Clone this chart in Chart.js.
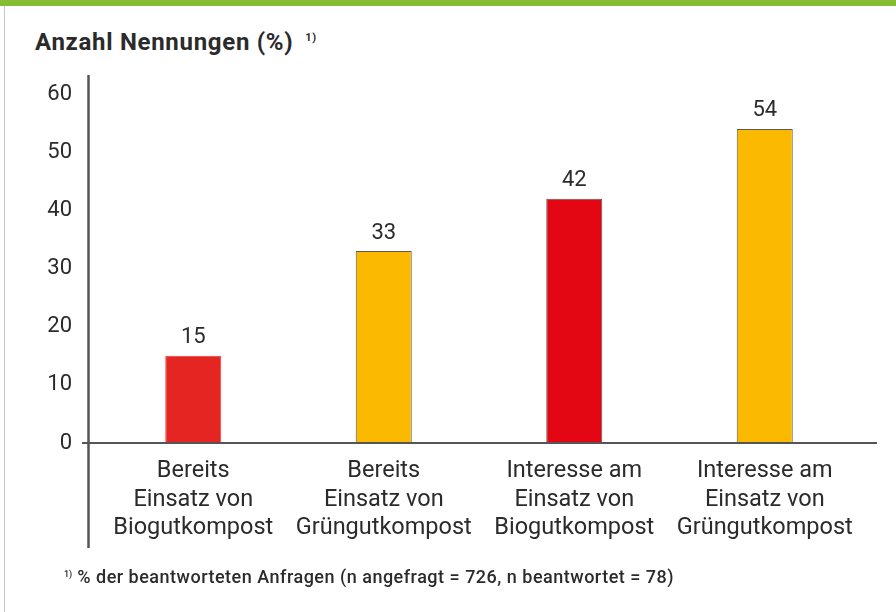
<!DOCTYPE html>
<html lang="de">
<head>
<meta charset="utf-8">
<script src="https://cdn.jsdelivr.net/npm/chart.js@4"></script>
<style>
    body { margin: 0; background: #fff; }
    .wrap { position: relative; width: 896px; height: 612px; overflow: hidden; font-family: Roboto, sans-serif; color: #2b2b2b; }
    .topbar { position: absolute; left: 0; top: 0; width: 896px; height: 6px; background: #86bc34; }
    .leftline { position: absolute; left: 4px; top: 6px; width: 1px; height: 606px; background: #c8c8c8; }
    .title { position: absolute; left: 35px; top: 28px; font-size: 24px; font-weight: bold; letter-spacing: 0.7px; white-space: nowrap; }
    .title sup { font-size: 11px; margin-left: 12px; vertical-align: 9px; }
    .note { position: absolute; left: 64px; top: 566px; font-size: 18px; font-weight: 500; letter-spacing: 0.5px; white-space: nowrap; }
    .note sup { font-size: 9px; margin-right: 5px; vertical-align: 6px; letter-spacing: 0; }
    canvas { position: absolute; left: 0; top: 0; }
</style>
</head>
<body>
<div class="wrap">
    <div class="topbar"></div>
    <div class="leftline"></div>
    <div class="title">Anzahl Nennungen (%)<sup>1)</sup></div>
    <canvas id="chart" width="896" height="612"></canvas>
    <div class="note"><sup>1)</sup>% der beantworteten Anfragen (n angefragt = 726, n beantwortet = 78)</div>
</div>
<script>
const categories = [
    ['Bereits', 'Einsatz von', 'Biogutkompost'],
    ['Bereits', 'Einsatz von', 'Grüngutkompost'],
    ['Interesse am', 'Einsatz von', 'Biogutkompost'],
    ['Interesse am', 'Einsatz von', 'Grüngutkompost']
];
const values = [15, 33, 42, 54];
const yTicks = [0, 10, 20, 30, 40, 50, 60];

const barColors = ['#e52521', '#fbba00', '#e30613', '#fbba00'];
const barBorders = ['#e8413c', '#5a5a5a', '#5a5a5a', '#5a5a5a'];

// axis lines stick out past the plot area, so they are drawn by hand
const axisLines = {
    id: 'axisLines',
    afterDatasetsDraw(chart) {
        const c = chart.ctx;
        const area = chart.chartArea;
        const y = chart.scales.y;
        const y0 = y.getPixelForValue(0);
        const yTop = y.getPixelForValue(yTicks[yTicks.length - 1]);
        c.save();
        c.strokeStyle = '#555';
        c.lineWidth = 2;
        c.beginPath();
        c.moveTo(area.left - 16, y0);
        c.lineTo(area.right + 17, y0);
        c.stroke();
        c.lineWidth = 2.5;
        c.beginPath();
        c.moveTo(area.left - 9.5, yTop - 19);
        c.lineTo(area.left - 9.5, y0 + 105);
        c.stroke();
        c.restore();
    }
};

const valueLabels = {
    id: 'valueLabels',
    afterDatasetsDraw(chart) {
        const c = chart.ctx;
        const meta = chart.getDatasetMeta(0);
        c.save();
        c.font = '22px Roboto, sans-serif';
        c.fillStyle = '#2b2b2b';
        c.textAlign = 'center';
        c.textBaseline = 'middle';
        meta.data.forEach(function(bar, i) {
            c.fillText(String(values[i]), bar.x, bar.y - 18);
        });
        c.restore();
    }
};

new Chart(document.getElementById('chart'), {
    type: 'bar',
    data: {
        labels: categories,
        datasets: [{
            data: values,
            backgroundColor: barColors,
            borderColor: barBorders,
            borderWidth: 1,
            barPercentage: 0.294,
            categoryPercentage: 1
        }]
    },
    options: {
        responsive: false,
        animation: false,
        layout: { padding: { top: 94, right: 36, bottom: 0, left: 0 } },
        plugins: { legend: { display: false }, tooltip: { enabled: false } },
        scales: {
            x: {
                grid: { display: false, drawTicks: false },
                border: { display: false },
                ticks: {
                    color: '#2b2b2b',
                    padding: 14,
                    maxRotation: 0,
                    autoSkip: false,
                    font: { family: 'Roboto, sans-serif', size: 23.5, lineHeight: 1.215 }
                },
                afterFit: function(scale) { scale.height = 169; }
            },
            y: {
                min: 0,
                max: 60,
                grid: { display: false, drawTicks: false },
                border: { display: false },
                afterBuildTicks: function(scale) {
                    scale.ticks = yTicks.map(function(v) { return { value: v }; });
                },
                ticks: {
                    color: '#2b2b2b',
                    padding: 26,
                    font: { family: 'Roboto, sans-serif', size: 22 }
                },
                afterFit: function(scale) { scale.width = 98; }
            }
        }
    },
    plugins: [axisLines, valueLabels]
});
</script>
</body>
</html>
